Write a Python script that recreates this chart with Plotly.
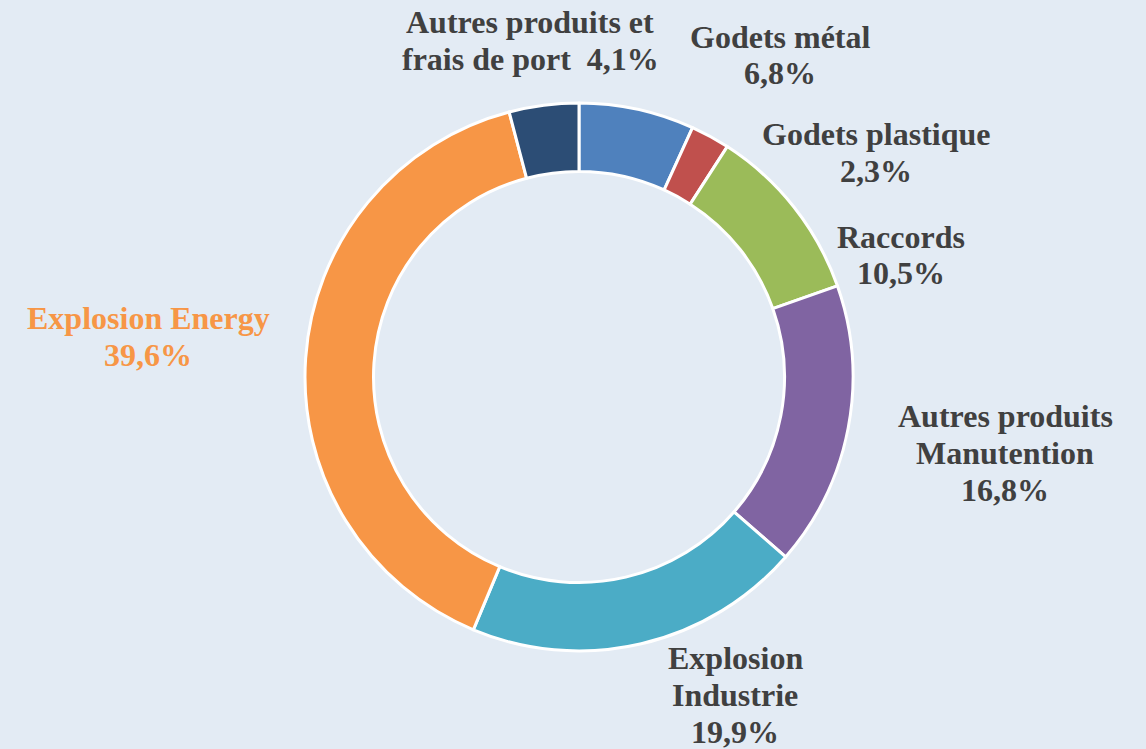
import plotly.graph_objects as go

# slices, clockwise from 12 o'clock
labels = [
    "Godets métal",
    "Godets plastique",
    "Raccords",
    "Autres produits Manutention",
    "Explosion Industrie",
    "Explosion Energy",
    "Autres produits et frais de port",
]
values = [6.8, 2.3, 10.5, 16.8, 19.9, 39.6, 4.1]
# how each label is broken into lines ("{p}" = percentage)
label_lines = [
    ["Godets métal", "{p}"],
    ["Godets plastique", "{p}"],
    ["Raccords", "{p}"],
    ["Autres produits", "Manutention", "{p}"],
    ["Explosion", "Industrie", "{p}"],
    ["Explosion Energy", "{p}"],
    ["Autres produits et", "frais de port \u00a0{p}"],
]
colors = ["#4F81BD", "#C0504D", "#9BBB59", "#8064A2", "#4BACC6", "#F79646", "#2C4D75"]

W, H = 1146, 749
BG = "#E3EBF4"

fig = go.Figure()

fig.add_trace(
    go.Pie(
        labels=labels,
        values=values,
        hole=0.75,
        sort=False,
        direction="clockwise",
        rotation=0,
        marker=dict(colors=colors, line=dict(color="white", width=3)),
        textinfo="none",
        hoverinfo="label+percent",
        showlegend=False,
        domain=dict(x=[305 / W, 853 / W], y=[1 - 651 / H, 1 - 103 / H]),
    )
)

# label block centres in pixels
label_pos = [(780, 55), (876, 153), (901, 255), (1005, 453), (735, 695), (148, 336), (530, 40)]
LINE = 37


def fmt(v):
    return f"{v:.1f}".replace(".", ",") + "%"


for i, (lines, v) in enumerate(zip(label_lines, values)):
    cx, cy = label_pos[i]
    n = len(lines)
    for k, line in enumerate(lines):
        y = cy + LINE * (k - (n - 1) / 2)
        fig.add_annotation(
            x=cx / W,
            y=1 - y / H,
            xref="paper",
            yref="paper",
            xanchor="center",
            yanchor="middle",
            text="<b>" + line.replace("{p}", fmt(v)) + "</b>",
            showarrow=False,
            font=dict(
                family="Liberation Serif, Times New Roman, serif",
                size=32,
                color="#F79646" if i == 5 else "#404040",
            ),
        )

fig.update_layout(
    width=W,
    height=H,
    margin=dict(l=0, r=0, t=0, b=0),
    paper_bgcolor=BG,
    plot_bgcolor=BG,
)

fig.write_html(
    "out.html",
    config={"displayModeBar": False},
    post_script="document.body.style.margin='0';",
)
